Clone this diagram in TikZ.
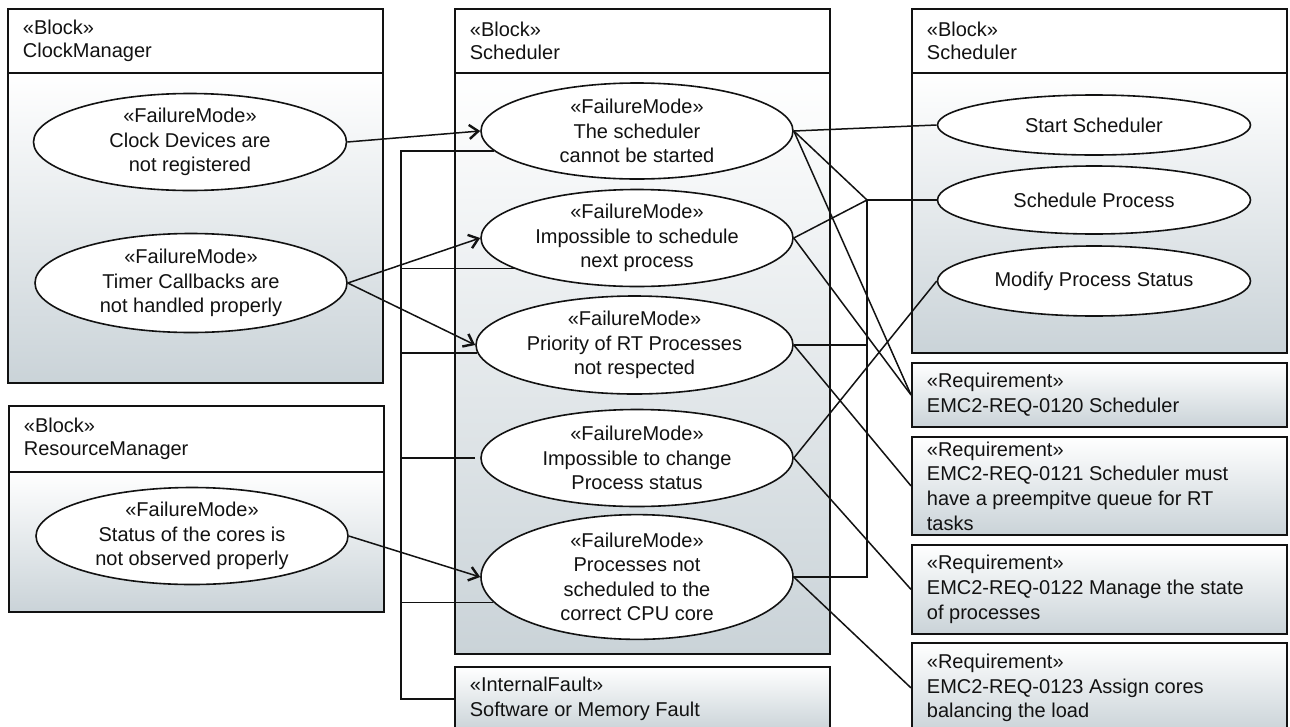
\documentclass[tikz,border=0pt]{standalone}
\usepackage{fontspec}
\setmainfont{Liberation Sans}
\usetikzlibrary{shapes.geometric,arrows.meta,calc}
\definecolor{bodyg}{RGB}{202,211,216}
\definecolor{ink}{RGB}{18,18,18}

\begin{document}
\begin{tikzpicture}[x=1pt,y=-1pt,
  every node/.style={font=\fontsize{20}{22.5}\selectfont, text=ink},
  head/.style={draw=ink, line width=1.8pt, fill=white, rectangle, anchor=north west,
    minimum width=375pt, text width=345pt, inner xsep=15pt, inner ysep=0pt, align=flush left},
  body/.style={draw=ink, line width=1.8pt, rectangle, anchor=north west,
    minimum width=375pt, top color=white, bottom color=bodyg, inner sep=0pt},
  fm/.style={draw=ink, line width=1.6pt, ellipse, fill=white, inner sep=0pt, align=center,
    font=\fontsize{20}{24.5}\selectfont},
  req/.style={draw=ink, line width=1.8pt, rectangle, anchor=north west,
    minimum width=375pt, text width=345pt, inner xsep=15pt, inner ysep=0pt, align=flush left,
    top color=white, bottom color=bodyg, font=\fontsize{20}{24.7}\selectfont},
  link/.style={draw=ink, line width=1.5pt, line join=miter},
  flow/.style={draw=ink, line width=1.5pt, -{Straight Barb[length=9pt,width=14pt,line width=2.4pt]}}
]
\clip (0,0) rectangle (1290,726);
\fill[white] (0,0) rectangle (1290,726);

% ---- blocks ----
\node[body, minimum height=310pt] (cmB) at (7,72) {};
\node[head, minimum height=64pt] (cmH) at (7,8) {«Block»\\ClockManager};

\node[body, minimum height=140pt] (rmB) at (8,471) {};
\node[head, minimum height=66pt] (rmH) at (8,405) {«Block»\\ResourceManager};

\node[body, minimum height=581pt] (scB) at (454,72) {};
\node[head, minimum height=64pt] (scH) at (454,8) {«Block»\\Scheduler};

\node[body, minimum height=280pt] (srB) at (911,72) {};
\node[head, minimum height=64pt] (srH) at (911,8) {«Block»\\Scheduler};

% ---- requirements and fault ----
\node[req, minimum height=64pt] (q0) at (911,362) {«Requirement»\\EMC2-REQ-0120 Scheduler};
\node[req, minimum height=98pt] (q1) at (911,436) {«Requirement»\\EMC2-REQ-0121 Scheduler must\\have a preempitve queue for RT\\tasks};
\node[req, minimum height=89pt] (q2) at (911,544) {«Requirement»\\EMC2-REQ-0122 Manage the state\\of processes};
\node[req, minimum height=90pt] (q3) at (911,642) {«Requirement»\\EMC2-REQ-0123 Assign cores\\balancing the load};
\node[req, minimum height=64pt] (if) at (454,666) {«InternalFault»\\Software or Memory Fault};

% ---- failure modes ----
\node[fm, minimum width=313pt, minimum height=97pt] (cm1) at (190,142) {«FailureMode»\\Clock Devices are\\not registered};
\node[fm, minimum width=312pt, minimum height=99pt] (cm2) at (191,283) {«FailureMode»\\Timer Callbacks are\\not handled properly};
\node[fm, minimum width=312pt, minimum height=97pt] (rm1) at (192,536) {«FailureMode»\\Status of the cores is\\not observed properly};

\node[fm, minimum width=312pt, minimum height=96pt] (s1) at (637,131) {«FailureMode»\\The scheduler\\cannot be started};
\node[fm, minimum width=312pt, minimum height=97pt] (s2) at (637,238) {«FailureMode»\\Impossible to schedule\\next process};
\node[fm, minimum width=317pt, minimum height=98pt] (s3) at (634.5,345) {«FailureMode»\\Priority of RT Processes\\not respected};
\node[fm, minimum width=312pt, minimum height=97pt] (s4) at (637,458) {«FailureMode»\\Impossible to change\\Process status};
\node[fm, minimum width=312pt, minimum height=116pt] (s5) at (637,577) {«FailureMode»\\Processes not\\scheduled to the\\correct CPU core};

\node[fm, minimum width=313pt, minimum height=60pt] (r1) at (1094,125) {Start Scheduler};
\node[fm, minimum width=313pt, minimum height=68pt] (r2) at (1094,200) {Schedule Process};
\node[fm, minimum width=313pt, minimum height=70pt] (r3) at (1094,281) {Modify Process Status};

% ---- propagation arrows ----
\draw[flow] (cm1.east) -- (s1.west);
\draw[flow] (cm2.east) -- (s2.west);
\draw[flow] (cm2.east) -- (s3.west);
\draw[flow] (rm1.east) -- (s5.west);

% ---- internal fault bus ----
\coordinate (bus) at (401,0);
\draw[link] (s1.188) -- (s1.188 -| bus) -- (if.west -| bus) -- (if.west);
\draw[link] (s2.194) -- (s2.194 -| bus);
\draw[link] (s3.183) -- (s3.183 -| bus);
\draw[link] ([xshift=-5pt]s4.west) -- (s4.west -| bus);
\draw[link] (s5.190) -- (s5.190 -| bus);

% ---- functions ----
\coordinate (jx) at (867,0);
\draw[link] (s1.east) -- (r1.west);
\draw[link] (r2.west) -- (r2.west -| jx) -- (s5.east -| jx) -- (s5.east);
\draw[link] (s1.east) -- (r2.west -| jx);
\draw[link] (s2.east) -- (r2.west -| jx);
\draw[link] (s3.east) -- (s3.east -| jx);
\draw[link] (s4.east) -- (r3.west);

% ---- requirements ----
\draw[link] (s1.east) -- (q0.west);
\draw[link] (s2.east) -- (q0.west);
\draw[link] (s3.east) -- (q1.west);
\draw[link] (s4.east) -- (q2.west);
\draw[link] (s5.east) -- (q3.west);
\end{tikzpicture}
\end{document}
